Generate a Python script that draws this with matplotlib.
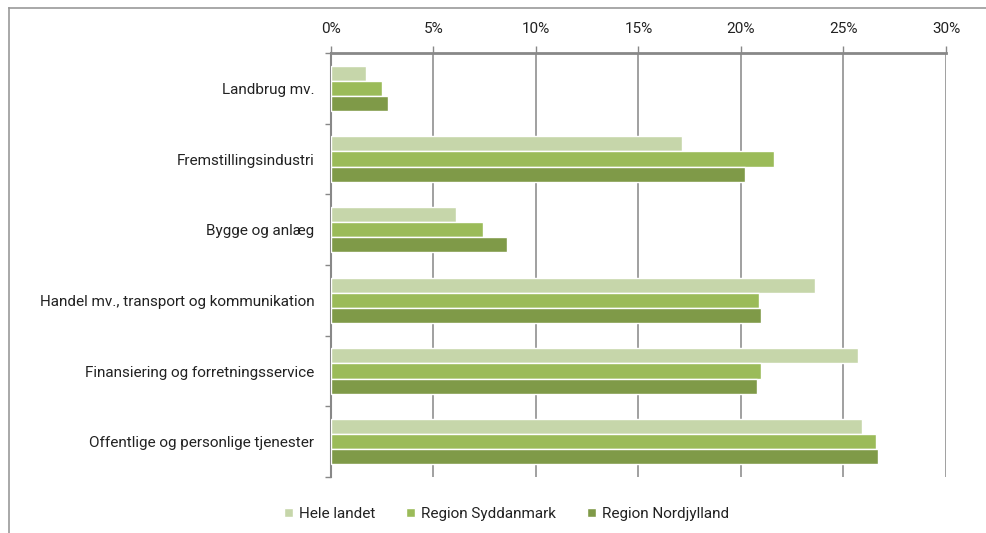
import numpy as np
import matplotlib.pyplot as plt
from matplotlib.lines import Line2D

plt.rcParams['font.family'] = ['Roboto', 'DejaVu Sans']

categories = ["Landbrug mv.", "Fremstillingsindustri", "Bygge og anlæg",
              "Handel mv., transport og kommunikation",
              "Finansiering og forretningsservice",
              "Offentlige og personlige tjenester"]
series_names = ["Hele landet", "Region Syddanmark", "Region Nordjylland"]
hele_landet = [1.7, 17.1, 6.1, 23.6, 25.7, 25.9]
syddanmark = [2.5, 21.6, 7.4, 20.9, 21.0, 26.6]
nordjylland = [2.8, 20.2, 8.6, 21.0, 20.8, 26.7]
x_ticks = [0, 5, 10, 15, 20, 25, 30]

colors = ["#c6d6aa", "#9bbb59", "#7f9a48"]

fig = plt.figure(figsize=(9.87, 5.33), dpi=100)
ax = fig.add_axes([331/987, 1-477/533, (946-331)/987, (477-53)/533])

y = np.arange(len(categories))
h = 0.215
for i, (vals, name) in enumerate(zip([hele_landet, syddanmark, nordjylland], series_names)):
    ax.barh(y + (i - 1) * h, vals, height=h, color=colors[i], edgecolor="white",
            linewidth=1, label=name, zorder=3)

ax.set_xlim(0, 30)
ax.set_ylim(len(categories) - 0.5, -0.5)
ax.xaxis.tick_top()
ax.set_xticks(x_ticks)
ax.set_xticklabels([f"{t}%" for t in x_ticks])
ax.tick_params(axis="x", direction="out", length=5, width=1, color="#888888",
               pad=7, labelsize=11, labelcolor="#222222")
ax.grid(axis="x", color="#a0a0a0", linewidth=1.4)
ax.set_axisbelow(True)

# ticks at category boundaries, labels at centres
ax.set_yticks(np.arange(-0.5, len(categories), 1))
ax.set_yticklabels([])
ax.set_yticks(y, minor=True)
ax.set_yticklabels(categories, minor=True)
ax.tick_params(axis="y", which="major", direction="out", length=4, width=1, color="#888888")
ax.tick_params(axis="y", which="minor", length=0, pad=12, labelsize=11, labelcolor="#222222")

for s in ["right", "bottom"]:
    ax.spines[s].set_visible(False)
ax.spines["top"].set_color("#888888")
ax.spines["top"].set_linewidth(2)
ax.spines["left"].set_color("#888888")
ax.spines["left"].set_linewidth(1.5)

# outer chart frame (cut off right and bottom)
fig.add_artist(Line2D([9/987, 9/987], [0, 1-8/533], color="#999999", linewidth=1.2))
fig.add_artist(Line2D([9/987, 1], [1-8/533, 1-8/533], color="#999999", linewidth=1.2))

fig.legend(loc="center", bbox_to_anchor=(0.513, 0.036), ncol=3, frameon=False,
           handlelength=0.6, handleheight=0.6, handletextpad=0.4, columnspacing=2.0,
           fontsize=11, labelcolor="#222222")

fig.savefig("out.png", dpi=100)
